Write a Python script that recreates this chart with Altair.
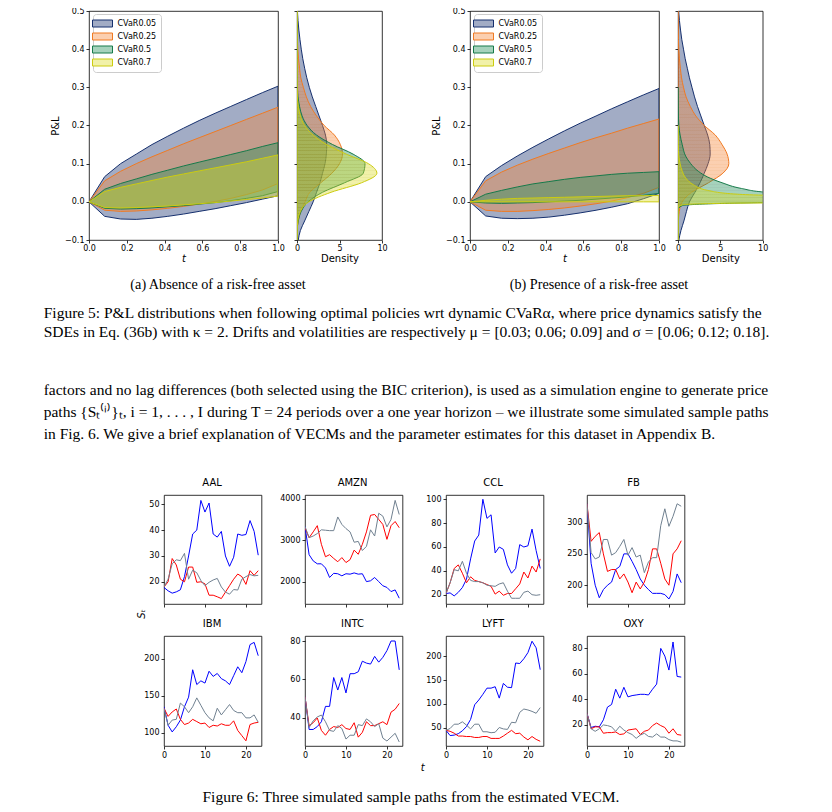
import altair as alt
import pandas as pd

# ---------------- Figure 5 data ----------------
SERIES = ["CVaR0.05", "CVaR0.25", "CVaR0.5", "CVaR0.7"]
EDGE = ["#16306e", "#f07a22", "#177a4a", "#cccc10"]
FILL = ["#16306e", "#f5883a", "#1f8f58", "#dcdc28"]
LEGEND_FILL = ["#a2acc5", "#fbcfb0", "#a5d2bc", "#f1f1a9"]

T_GRID = [0.0, 0.083, 0.167, 0.25, 0.333, 0.417, 0.5, 0.583, 0.667, 0.75, 0.833, 0.917, 1.0]

A_HI = {
    "CVaR0.05": [0, 0.066, 0.100, 0.125, 0.150, 0.172, 0.193, 0.213, 0.232, 0.250, 0.268, 0.286, 0.303],
    "CVaR0.25": [0, 0.055, 0.080, 0.100, 0.118, 0.135, 0.152, 0.168, 0.184, 0.200, 0.216, 0.232, 0.248],
    "CVaR0.5": [0, 0.033, 0.048, 0.060, 0.072, 0.083, 0.094, 0.104, 0.114, 0.124, 0.134, 0.145, 0.155],
    "CVaR0.7": [0, 0.027, 0.038, 0.047, 0.056, 0.065, 0.073, 0.081, 0.089, 0.097, 0.105, 0.114, 0.123],
}
A_LO = {
    "CVaR0.05": [0, -0.038, -0.045, -0.046, -0.043, -0.038, -0.032, -0.025, -0.018, -0.010, -0.002, 0.007, 0.016],
    "CVaR0.25": [0, -0.022, -0.025, -0.024, -0.021, -0.017, -0.012, -0.006, 0.001, 0.009, 0.019, 0.031, 0.048],
    "CVaR0.5": [0, -0.017, -0.019, -0.018, -0.016, -0.013, -0.010, -0.006, -0.002, 0.003, 0.009, 0.016, 0.027],
    "CVaR0.7": [0, -0.015, -0.016, -0.015, -0.013, -0.011, -0.008, -0.005, -0.002, 0.002, 0.006, 0.010, 0.015],
}
B_HI = {
    "CVaR0.05": [0, 0.066, 0.095, 0.120, 0.143, 0.165, 0.186, 0.206, 0.225, 0.244, 0.262, 0.280, 0.297],
    "CVaR0.25": [0, 0.055, 0.078, 0.096, 0.112, 0.127, 0.141, 0.155, 0.168, 0.180, 0.193, 0.205, 0.217],
    "CVaR0.5": [0, 0.020, 0.030, 0.039, 0.047, 0.053, 0.059, 0.064, 0.068, 0.072, 0.075, 0.077, 0.079],
    "CVaR0.7": [0, 0.004, 0.007, 0.009, 0.010, 0.011, 0.012, 0.013, 0.014, 0.015, 0.016, 0.016, 0.017],
}
B_LO = {
    "CVaR0.05": [0, -0.037, -0.043, -0.044, -0.043, -0.040, -0.035, -0.029, -0.022, -0.014, -0.005, 0.008, 0.022],
    "CVaR0.25": [0, -0.022, -0.025, -0.025, -0.023, -0.020, -0.016, -0.011, -0.005, 0.002, 0.011, 0.022, 0.038],
    "CVaR0.5": [0, -0.003, -0.004, -0.003, -0.002, 0.000, 0.002, 0.004, 0.007, 0.010, 0.013, 0.017, 0.022],
    "CVaR0.7": [0, 0, 0, 0, 0, 0, 0, 0, 0, 0, 0, 0, 0],
}

DY = [-0.1, -0.075, -0.05, -0.025, 0.0, 0.025, 0.05, 0.075, 0.1, 0.125, 0.15, 0.175, 0.2,
      0.225, 0.25, 0.275, 0.3, 0.325, 0.35, 0.375, 0.4, 0.425, 0.45, 0.475, 0.5]
DENS_A = {
    "CVaR0.05": [0.15, 0.4, 0.9, 1.4, 1.9, 2.3, 2.7, 3.0, 3.3, 3.45, 3.5, 3.35, 3.0, 2.6, 2.2, 1.8, 1.45, 1.15, 0.9, 0.68, 0.5, 0.35, 0.22, 0.12, 0.05],
    "CVaR0.25": [0, 0.02, 0.15, 0.45, 0.95, 1.5, 2.8, 4.1, 5.0, 5.35, 5.1, 4.4, 3.2, 2.3, 1.6, 1.1, 0.75, 0.45, 0.3, 0.18, 0.1, 0.05, 0.02, 0.01, 0],
    "CVaR0.5": [0, 0.02, 0.15, 0.5, 1.3, 3.0, 5.6, 7.8, 8.0, 6.6, 4.2, 2.3, 1.2, 0.6, 0.3, 0.12, 0.05, 0.02, 0.01, 0, 0, 0, 0, 0, 0],
    "CVaR0.7": [0, 0.01, 0.1, 0.4, 1.4, 4.0, 7.6, 9.4, 8.4, 5.8, 3.5, 1.9, 0.9, 0.4, 0.15, 0.05, 0.01, 0, 0, 0, 0, 0, 0, 0, 0],
}
DENS_B_NAVY = [0.1, 0.35, 0.7, 1.0, 1.35, 2.0, 2.6, 3.1, 3.55, 3.8, 3.75, 3.5, 3.1, 2.7, 2.3, 1.95, 1.65, 1.35, 1.1, 0.85, 0.65, 0.45, 0.3, 0.17, 0.08]
DENS_B_ORANGE = [0, 0.01, 0.05, 0.15, 0.5, 1.6, 3.6, 5.3, 6.0, 5.8, 5.2, 4.4, 3.1, 2.1, 1.45, 0.95, 0.65, 0.42, 0.28, 0.17, 0.1, 0.05, 0.02, 0.01, 0]
GB_Y = [-0.1, -0.02, -0.01, -0.005, 0.0, 0.005, 0.012, 0.02, 0.025, 0.035, 0.05, 0.065, 0.08, 0.1, 0.12, 0.15, 0.175, 0.2, 0.25, 0.3]
GB_D = [0, 0, 0.5, 4, 14, 22, 24, 15, 10.5, 7.5, 5.2, 3.5, 2.4, 1.5, 0.9, 0.5, 0.25, 0.1, 0.02, 0]
YB_Y = [-0.1, -0.015, -0.008, -0.004, 0.0, 0.008, 0.013, 0.017, 0.02, 0.03, 0.045, 0.06, 0.08, 0.1, 0.12, 0.15, 0.2]
YB_D = [0, 0, 0.5, 5, 30, 40, 25, 11, 7, 3.5, 1.8, 1.0, 0.5, 0.25, 0.1, 0.03, 0]

PNL_TICKS = [-0.1, 0.0, 0.1, 0.2, 0.3, 0.4, 0.5]
T_TICKS = [0.0, 0.2, 0.4, 0.6, 0.8, 1.0]
DENS_TICKS = [0, 5, 10]

# ---------------- Figure 6 data ----------------
T6 = list(range(24))
PATH_NAMES = ["path 1", "path 2", "path 3"]
PATH_COLORS = ["#0000ff", "#ff0000", "#708090"]
TICKERS = ["AAL", "AMZN", "CCL", "FB", "IBM", "INTC", "LYFT", "OXY"]
PATHS = {
    "AAL": [
        [17.8, 16.5, 15.6, 16.1, 16.9, 22, 30, 38.5, 40, 51.5, 47, 50.5, 38.5, 37.3, 39.5, 30, 26, 29.5, 38.5, 38, 38.3, 43.7, 39.5, 30.3],
        [18, 20, 29, 26.5, 21, 20, 25.7, 25.7, 19.8, 20, 19.2, 14.8, 14.8, 14.2, 13.5, 16, 18.5, 21, 23, 22, 19, 24.3, 22.5, 24.3],
        [18, 21, 27, 28.5, 28.2, 31, 21, 24.5, 23.5, 20.5, 18.5, 19.8, 20.7, 21.3, 18, 16, 15.2, 17, 16.8, 21, 22, 22.8, 22.3, 22.5],
    ],
    "AMZN": [
        [3330, 2650, 2500, 2430, 2430, 2330, 2100, 2200, 2190, 2140, 2190, 2180, 2210, 2180, 2190, 2000, 2020, 2100, 2000, 1900, 1860, 1760, 1800, 1600],
        [3300, 3060, 3200, 3350, 2900, 2600, 2650, 2560, 2480, 2580, 2460, 2530, 2760, 2660, 2900, 3200, 3600, 3620, 3500, 3380, 3020, 3350, 3450, 3300],
        [3330, 3060, 3100, 3160, 3250, 3240, 3230, 3230, 3560, 3380, 3280, 3200, 2950, 2970, 2750, 2850, 3250, 3100, 3650, 3580, 3320, 3500, 3960, 3620],
    ],
    "CCL": [
        [21, 21.5, 19, 22, 26, 33, 50, 65, 70, 100, 84, 87, 55, 60, 58, 45, 38, 42, 62, 60, 61, 75, 57, 42],
        [21, 30, 42, 45, 38, 30, 35, 32, 31, 30, 28.5, 27, 20.5, 23, 19.5, 21, 21, 25, 29, 39, 34, 44, 39, 50],
        [21, 30, 41, 40, 48, 38, 32, 31, 31, 30, 28, 27.5, 27, 29, 30, 23, 17, 17, 17, 22, 23, 20, 19.5, 20],
    ],
    "FB": [
        [330, 235, 200, 180, 193, 200, 205, 225, 230, 250, 250, 238, 225, 210, 200, 193, 187, 187, 187, 185, 178, 190, 218, 204],
        [330, 270, 278, 284, 250, 222, 225, 225, 210, 218, 205, 188, 205, 194, 205, 225, 258, 258, 235, 210, 200, 250, 258, 271],
        [330, 252, 242, 245, 273, 273, 248, 252, 262, 273, 248, 260, 245, 248, 220, 237, 244, 244, 295, 322, 294, 310, 330, 326],
    ],
    "IBM": [
        [135, 110, 101, 108, 117, 135, 148, 185, 165, 170, 167, 183, 176, 180, 173, 170, 165, 177, 189, 181, 196, 219, 222, 204],
        [133, 122, 128, 132, 118, 111, 113, 118, 115, 112, 113, 107, 110, 109, 112, 110, 110, 116, 103, 96, 89, 111, 113, 114],
        [133, 110, 117, 118, 140, 135, 127, 135, 147, 137, 127, 120, 116, 133, 124, 131, 138, 130, 127, 127, 120, 120, 124, 114],
    ],
    "INTC": [
        [51, 34, 34, 35.5, 38, 46, 46, 61, 54.5, 61, 53, 63, 63, 64, 69.5, 68.5, 68, 72, 69, 71.5, 75, 80, 80, 65],
        [51, 36, 37.5, 40, 33.5, 31, 34, 35.5, 35, 36.5, 34.5, 34, 37.5, 30, 32.5, 38, 36, 36, 37, 38, 36.5, 43, 44.5, 47.5],
        [51, 35, 38.5, 40.5, 41.5, 38, 33.5, 33, 36, 34.5, 29, 31, 31, 36.5, 36, 39.5, 38, 35.5, 37, 29.5, 28, 30, 32, 27.5],
    ],
    "LYFT": [
        [44, 33, 34, 37, 43, 52, 67, 98, 108, 120, 133, 133, 136, 112, 143, 135, 134, 186, 185, 195, 208, 232, 218, 172],
        [44, 42, 38, 32, 32, 31, 31, 29, 29, 31, 31, 27, 27, 27, 32, 38, 44, 37, 38, 30, 24, 31, 25, 21],
        [44, 48, 57, 57, 62, 55, 47, 57, 57, 41, 41, 39, 40, 50, 47, 46, 61, 60, 82, 89, 87, 84, 80, 92],
    ],
    "OXY": [
        [29, 18, 19, 18.5, 24, 34, 36, 48, 41, 49.5, 42, 43, 43.5, 44, 44, 43.5, 48, 52, 80, 74, 63, 85, 58, 57.5],
        [29, 17, 18.5, 18.5, 13.5, 14, 14, 14.5, 12.5, 13, 16, 16.5, 17, 12.5, 15, 16, 19.5, 21.5, 19.5, 18, 13.5, 17, 12.5, 12],
        [29, 17, 15, 17, 20, 19.5, 18.5, 15, 19, 16, 14, 12.5, 9.5, 12, 13.5, 11, 10.5, 13, 10.5, 10.5, 8.5, 7.5, 7.5, 6.5],
    ],
}
Y_DOMAINS = {
    "AAL": [11.4, 53.6], "AMZN": [1460, 4090], "CCL": [12.2, 103.6], "FB": [170, 344],
    "IBM": [82, 230.6], "INTC": [25.4, 82.6], "LYFT": [11, 243], "OXY": [3.5, 89.7],
}
Y_TICKS = {
    "AAL": [20, 30, 40, 50], "AMZN": [2000, 3000, 4000], "CCL": [20, 40, 60, 80, 100], "FB": [200, 250, 300],
    "IBM": [100, 150, 200], "INTC": [40, 60, 80], "LYFT": [50, 100, 150, 200], "OXY": [20, 40, 60, 80],
}
T6_TICKS = [0, 10, 20]

# ---------------- texts ----------------
CAP_A = "(a) Absence of a risk-free asset"
CAP_B = "(b) Presence of a risk-free asset"
FIG5_L1 = "Figure 5: P&L distributions when following optimal policies wrt dynamic CVaRα, where price dynamics satisfy the"
FIG5_L2 = "SDEs in Eq. (36b) with κ = 2. Drifts and volatilities are respectively μ = [0.03; 0.06; 0.09] and σ = [0.06; 0.12; 0.18]."
PARA = [
    "factors and no lag differences (both selected using the BIC criterion), is used as a simulation engine to generate price",
    "paths {Sₜ⁽ⁱ⁾}ₜ, i = 1, . . . , I during T = 24 periods over a one year horizon – we illustrate some simulated sample paths",
    "in Fig. 6. We give a brief explanation of VECMs and the parameter estimates for this dataset in Appendix B.",
]
FIG6_CAP = "Figure 6: Three simulated sample paths from the estimated VECM."

SERIF = "Liberation Serif"
SANS = "DejaVu Sans"
NOVIEW = alt.ViewBackground(stroke="transparent")
BODY = 15.5
SUB = 14.2

PANEL_W = 97.5
PANEL_GAP = 43
PANEL_X0 = 122.3
DENS_H = 229


def txt(s, x, y, size, align="left", font=SERIF, angle=0, style="normal", baseline="alphabetic"):
    return alt.Chart(pd.DataFrame({"s": [s]})).mark_text(
        align=align, baseline=baseline, font=font, fontSize=size, fontStyle=style,
        angle=angle, color="black"
    ).encode(x=alt.value(x), y=alt.value(y), text="s:N")


def spacer(w, h=1):
    return alt.Chart(pd.DataFrame({"a": [0]})).mark_point(opacity=0).encode(
        x=alt.value(0), y=alt.value(0)
    ).properties(width=w, height=h, view=NOVIEW)


def hatch(face, edge, span_px, period=3.3, frac=0.28):
    """Horizontal hatching emulated with a hard-stop vertical gradient."""
    n = max(1, int(round(span_px / period)))
    stops = []
    for k in range(n):
        a, b, c = k / n, (k + frac) / n, (k + 1) / n
        stops += [alt.GradientStop(color=edge, offset=a), alt.GradientStop(color=edge, offset=b),
                  alt.GradientStop(color=face, offset=b), alt.GradientStop(color=face, offset=c)]
    return alt.Gradient(gradient="linear", stops=stops, x1=0, x2=0, y1=0, y2=1)


def fan_chart(hi, lo):
    rows = []
    for s in SERIES:
        for t, h, l in zip(T_GRID, hi[s], lo[s]):
            rows.append({"series": s, "t": t, "hi": h, "lo": l})
    df = pd.DataFrame(rows)
    xenc = alt.X("t:Q", scale=alt.Scale(domain=[0, 1], nice=False, zero=False),
                 axis=alt.Axis(values=T_TICKS, format=".1f", title="t", titleFontStyle="italic",
                               labelFlush=False, labelOverlap=False, titlePadding=1, labelPadding=1))
    yenc = alt.Y("lo:Q", scale=alt.Scale(domain=[-0.1, 0.5], nice=False, zero=False),
                 axis=alt.Axis(values=PNL_TICKS, format=".1f", title="P&L", titleX=-29,
                               labelOverlap=False, labelFlush=False))
    layers = []
    for s, fc, ec in zip(SERIES, FILL, EDGE):
        layers.append(
            alt.Chart(df).transform_filter(alt.datum.series == s)
            .mark_area(fill=fc, fillOpacity=0.4, stroke=ec, strokeWidth=1, clip=True)
            .encode(x=xenc, y=yenc, y2="hi:Q")
        )
    leg = alt.Legend(
        title=None, orient="none", legendX=4, legendY=3,
        symbolType="M-2,-0.7H2V0.7H-2Z", symbolSize=100, symbolStrokeWidth=1, symbolOpacity=1,
        labelFont=SANS, labelFontSize=8, labelColor="black", labelOffset=9.5,
        rowPadding=2, padding=4, fillColor="rgba(255,255,255,0.8)",
        strokeColor="#cccccc", cornerRadius=3,
    )
    legend_layer = (
        alt.Chart(df).transform_filter("datum.t < -5")
        .mark_area(strokeWidth=1)
        .encode(
            x=xenc, y=yenc, y2="hi:Q",
            fill=alt.Fill("series:N", scale=alt.Scale(domain=SERIES, range=LEGEND_FILL), legend=leg),
            stroke=alt.Stroke("series:N", scale=alt.Scale(domain=SERIES, range=EDGE), legend=leg),
        )
    )
    return alt.layer(*layers, legend_layer).properties(width=189, height=229)


def dens_chart(curves, width):
    layers = []
    for (ys, ds), fc, ec in zip(curves, FILL, EDGE):
        df = pd.DataFrame({"y": ys, "d": ds})
        span = (max(ys) - min(ys)) / 0.6 * DENS_H
        layers.append(
            alt.Chart(df).mark_area(orient="horizontal", interpolate="monotone",
                                    fill=hatch(fc, ec, span), fillOpacity=0.4,
                                    stroke=ec, strokeWidth=1, clip=True)
            .encode(
                x=alt.X("d:Q", scale=alt.Scale(domain=[0, 10], nice=False), stack=None,
                        axis=alt.Axis(values=DENS_TICKS, format="d", title="Density",
                                      labelFlush=False, labelOverlap=False, titlePadding=1, labelPadding=1)),
                y=alt.Y("y:Q", scale=alt.Scale(domain=[-0.1, 0.5], nice=False, zero=False),
                        axis=alt.Axis(values=PNL_TICKS, labels=False, title=None)),
            )
        )
    return alt.layer(*layers).properties(width=width, height=DENS_H)


def path_panel(name, height, show_labels):
    rows = []
    for pname, vals in zip(PATH_NAMES, PATHS[name]):
        for t, v in zip(T6, vals):
            rows.append({"path": pname, "t": t, "v": v})
    df = pd.DataFrame(rows)
    return alt.Chart(df).mark_line(strokeWidth=1, clip=True).encode(
        x=alt.X("t:Q", scale=alt.Scale(domain=[0, 23.8], nice=False, zero=False),
                axis=alt.Axis(values=T6_TICKS, labels=show_labels, title=None, format="d",
                              labelFlush=False, labelOverlap=False)),
        y=alt.Y("v:Q", scale=alt.Scale(domain=Y_DOMAINS[name], nice=False, zero=False),
                axis=alt.Axis(values=Y_TICKS[name], title=None, format="d", labelOverlap=False)),
        color=alt.Color("path:N", scale=alt.Scale(domain=PATH_NAMES, range=PATH_COLORS), legend=None),
    ).properties(width=PANEL_W, height=height)


def panel_titles(names, y):
    out = []
    for i, n in enumerate(names):
        cx = PANEL_X0 + i * (PANEL_W + PANEL_GAP) + PANEL_W / 2
        out.append(txt(n, cx, y, 10, align="center", font=SANS))
    return out


# ---------------- assemble ----------------
main_a = fan_chart(A_HI, A_LO)
main_b = fan_chart(B_HI, B_LO)
dens_a = dens_chart([(DY, DENS_A[s]) for s in SERIES], 85)
dens_b = dens_chart([(DY, DENS_B_NAVY), (DY, DENS_B_ORANGE), (GB_Y, GB_D), (YB_Y, YB_D)], 84.7)

# row 1 text cell: origin at page (40, 10)
text1 = alt.layer(
    txt(CAP_A, 177, 278.3, SUB, align="center"),
    txt(CAP_B, 558, 278.3, SUB, align="center"),
    txt(FIG5_L1, 2.7, 306.7, BODY),
    txt(FIG5_L2, 2.7, 325.7, BODY),
    txt(PARA[0], 2.7, 384.3, BODY),
    txt(PARA[1], 2.7, 406.0, BODY),
    txt(PARA[2], 2.7, 427.7, BODY),
    *panel_titles(TICKERS[:4], 475),
).properties(width=47.3, height=479, view=NOVIEW)

# row 2 first cell: origin at page (40, 489)
text2 = alt.layer(
    txt("Sₜ", 101, 119, 10, align="center", font=SANS, angle=270, style="italic", baseline="middle"),
    *panel_titles(TICKERS[4:], 132),
).properties(width=PANEL_X0, height=136, view=NOVIEW)

# row 3 first cell: origin at page (40, 625)
text3 = alt.layer(
    txt("t", 381.7, 132, 10, align="center", font=SANS, style="italic", baseline="middle"),
    txt(FIG6_CAP, 370, 165.5, BODY, align="center"),
).properties(width=PANEL_X0, height=110, view=NOVIEW)

row1 = alt.hconcat(text1, main_a, spacer(19), dens_a, spacer(88), main_b, spacer(18.7), dens_b,
                   spacing=0, bounds="flush").resolve_scale(fill="independent", stroke="independent")

r2 = [text2]
for i, tk in enumerate(TICKERS[:4]):
    if i > 0:
        r2.append(spacer(PANEL_GAP))
    r2.append(path_panel(tk, 109, False))
row2 = alt.hconcat(*r2, spacing=0, bounds="flush")

r3 = [text3]
for i, tk in enumerate(TICKERS[4:]):
    if i > 0:
        r3.append(spacer(PANEL_GAP))
    r3.append(path_panel(tk, 110, True))
row3 = alt.hconcat(*r3, spacing=0, bounds="flush")

chart = alt.vconcat(row1, row2, row3, spacing=0).resolve_scale(
    fill="independent", stroke="independent"
).properties(
    padding={"left": 32, "top": -2, "right": 5, "bottom": 5}
).configure_view(
    stroke="black", strokeWidth=0.8
).configure_axis(
    labelFont=SANS, labelFontSize=8, labelColor="black", labelPadding=2,
    tickColor="black", tickSize=3, tickWidth=0.8, domain=False, grid=False,
    titleFont=SANS, titleFontSize=10, titleFontWeight="normal", titleColor="black",
)

chart.save("out.html", embed_options={"renderer": "svg", "actions": False})
